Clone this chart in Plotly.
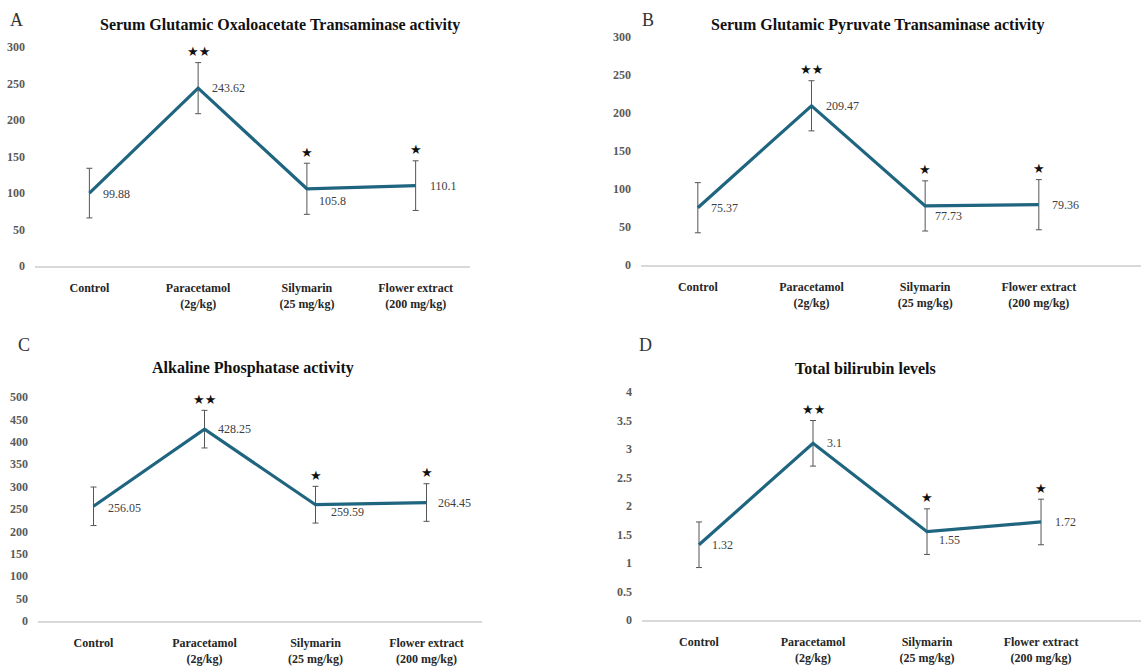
import plotly.graph_objects as go

W, H = 1141, 668

categories = ["Control", "Paracetamol", "Silymarin", "Flower extract"]
tick_text = ["Control", "Paracetamol<br>(2g/kg)", "Silymarin<br>(25 mg/kg)", "Flower extract<br>(200 mg/kg)"]

sgot_values = [99.88, 243.62, 105.8, 110.1]
sgot_errors = [34, 35, 35, 34]
sgpt_values = [75.37, 209.47, 77.73, 79.36]
sgpt_errors = [33, 33, 33, 33]
alp_values = [256.05, 428.25, 259.59, 264.45]
alp_errors = [43, 42, 41, 42]
bili_values = [1.32, 3.1, 1.55, 1.72]
bili_errors = [0.4, 0.4, 0.4, 0.4]

stars = ["", "★★", "★", "★"]

titles = ["Serum Glutamic Oxaloacetate Transaminase activity",
          "Serum Glutamic Pyruvate Transaminase activity",
          "Alkaline Phosphatase activity",
          "Total bilirubin levels"]
letters = ["A", "B", "C", "D"]

LINE = "#1F6580"
SERIF = "Liberation Serif"

def px(x):
    return x / W

def py(y):
    return 1 - y / H

panels = [
    dict(v=sgot_values, e=sgot_errors, xd=(35, 470), xr=[-0.5, 3.5], yd=(266, 47), yr=[0, 300], dt=50,
         lab=[(12, -1), (12, 0), (10, -12), (12, 0)], title=(280, 25), letter=(16, 20)),
    dict(v=sgpt_values, e=sgpt_errors, xd=(641, 1141), xr=[-0.5, 3.899], yd=(265, 37), yr=[0, 300], dt=50,
         lab=[(11, 0), (13, 0), (8, -10), (11, 0)], title=(878, 25), letter=(648, 20)),
    dict(v=alp_values, e=alp_errors, xd=(38, 482), xr=[-0.5, 3.5], yd=(621, 397), yr=[0, 500], dt=50,
         lab=[(12, -2), (11, 0), (13, -7), (9, 0)], title=(253, 368), letter=(24, 345)),
    dict(v=bili_values, e=bili_errors, xd=(642, 1141), xr=[-0.5, 3.877], yd=(620, 392), yr=[0, 4], dt=0.5,
         lab=[(11, 0), (12, 0), (10, -8), (12, 0)], title=(865, 368), letter=(645, 345)),
]

fig = go.Figure()
annotations = []
xs = [0, 1, 2, 3]

for i, p in enumerate(panels):
    n = "" if i == 0 else str(i + 1)
    xa, ya = "x" + n, "y" + n
    fig.add_trace(go.Scatter(
        x=xs, y=p["v"], mode="lines", xaxis=xa, yaxis=ya,
        line=dict(color=LINE, width=3.2),
        error_y=dict(type="data", array=p["e"], visible=True, color="#555555", thickness=1, width=3),
        showlegend=False, hoverinfo="skip",
    ))
    fig.update_layout(**{
        ("xaxis" + n): dict(domain=[px(p["xd"][0]), px(p["xd"][1])], range=p["xr"], anchor=ya,
                            tickvals=xs, ticktext=tick_text, showgrid=False, zeroline=False,
                            showline=True, linecolor="#d9d9d9", linewidth=1.5, ticks="",
                            ticklabelstandoff=10, automargin=False, fixedrange=True,
                            tickfont=dict(family=SERIF, size=12, color="#262626", weight="bold")),
        ("yaxis" + n): dict(domain=[py(p["yd"][0]), py(p["yd"][1])], range=p["yr"], anchor=xa,
                            dtick=p["dt"], tick0=0, showgrid=False, zeroline=False, showline=False,
                            ticks="", ticklabelstandoff=9, automargin=False, fixedrange=True,
                            tickfont=dict(family=SERIF, size=12, color="#595959", weight="bold")),
    })
    for j in range(4):
        dx, dy = p["lab"][j]
        annotations.append(dict(x=xs[j], y=p["v"][j], xref=xa, yref=ya, text=str(p["v"][j]),
                                showarrow=False, xanchor="left", yanchor="middle", xshift=dx, yshift=dy,
                                font=dict(family=SERIF, size=12, color="#404040")))
        if stars[j]:
            annotations.append(dict(x=xs[j], y=p["v"][j] + p["e"][j], xref=xa, yref=ya, text=stars[j],
                                    showarrow=False, xanchor="center", yanchor="middle", yshift=11,
                                    font=dict(family="DejaVu Sans", size=13, color="#111111")))
    annotations.append(dict(x=px(p["title"][0]), y=py(p["title"][1]), xref="paper", yref="paper",
                            text="<b>" + titles[i] + "</b>", showarrow=False, xanchor="center",
                            yanchor="middle", font=dict(family=SERIF, size=16, color="#111111")))
    annotations.append(dict(x=px(p["letter"][0]), y=py(p["letter"][1]), xref="paper", yref="paper",
                            text=letters[i], showarrow=False, xanchor="center", yanchor="middle",
                            font=dict(family=SERIF, size=18, color="#333333")))

fig.update_layout(width=W, height=H, margin=dict(l=0, r=0, t=0, b=0),
                  paper_bgcolor="white", plot_bgcolor="white", annotations=annotations)

fig.write_html("out.html")
